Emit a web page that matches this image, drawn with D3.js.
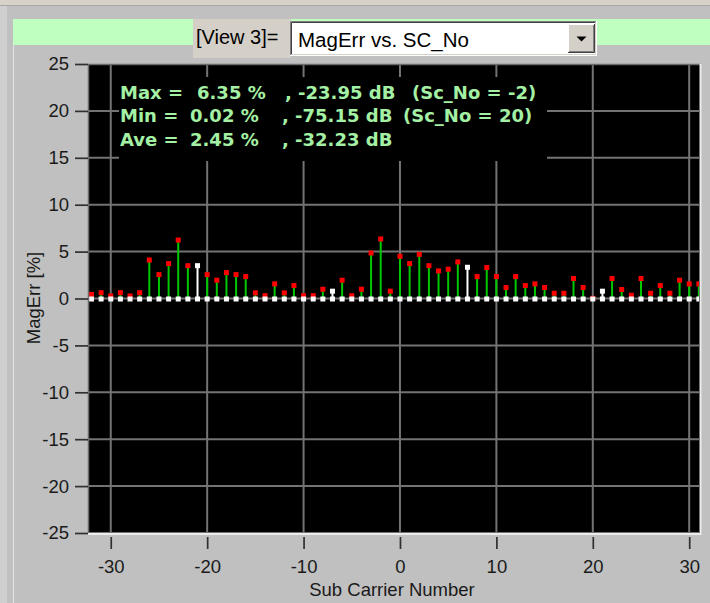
<!DOCTYPE html>
<html>
<head>
<meta charset="utf-8">
<script src="https://cdn.jsdelivr.net/npm/d3@7"></script>
<style>
  html, body { margin: 0; padding: 0; background: #c0c0c0; }
  svg { display: block; }
</style>
</head>
<body>
<svg id="chart" width="710" height="603"></svg>
<script>
// Sub carrier numbers shown on the x axis
const subCarriers = [
  -32, -31, -30, -29, -28, -27, -26, -25, -24, -23, -22, -21, -20, -19, -18, -17,
  -16, -15, -14, -13, -12, -11, -10, -9, -8, -7, -6, -5, -4, -3, -2, -1,
  0, 1, 2, 3, 4, 5, 6, 7, 8, 9, 10, 11, 12, 13, 14, 15,
  16, 17, 18, 19, 20, 21, 22, 23, 24, 25, 26, 27, 28, 29, 30, 31
];
// Magnitude error per sub carrier, in percent
const magErr = [
  0.44, 0.62, 0.27, 0.62, 0.27, 0.62, 4.10, 2.55, 3.72, 6.23, 3.50, 3.50, 2.55, 1.95, 2.76, 2.55,
  2.34, 0.60, 0.30, 1.56, 0.60, 1.38, 0.30, 0.30, 0.99, 0.78, 1.95, 0.30, 0.99, 4.85, 6.35, 0.78,
  4.50, 3.72, 4.71, 3.50, 2.94, 3.12, 3.90, 3.33, 2.34, 3.30, 2.34, 1.17, 2.34, 1.38, 1.56, 1.17,
  0.56, 0.56, 2.13, 1.17, 0.02, 0.78, 2.13, 0.96, 0.35, 2.13, 0.56, 1.38, 0.56, 1.95, 1.56, 1.56
];
// Pilot sub carriers, drawn in white
const pilots = [-21, -7, 7, 21];

const xTicks = [-30, -20, -10, 0, 10, 20, 30];
const yTicks = [-25, -20, -15, -10, -5, 0, 5, 10, 15, 20, 25];
const xDomain = [-32.36, 31.12];
const yDomain = [-25, 25];

const statLines = [
  ["Max =", "6.35 %", ", -23.95 dB", "(Sc_No = -2)"],
  ["Min =", "0.02 %", ", -75.15 dB", "(Sc_No = 20)"],
  ["Ave =", "2.45 %", ", -32.23 dB", ""]
];

const viewLabel = "[View 3]=";
const viewChoice = "MagErr vs. SC_No";
const xTitle = "Sub Carrier Number";
const yTitle = "MagErr [%]";

const data = subCarriers.map((sc, i) => ({ sc, v: magErr[i], pilot: pilots.includes(sc) }));

const svg = d3.select("#chart");
const W = 710, H = 603;
const plot = { left: 88, top: 64, right: 700, bottom: 533 };

const x = d3.scaleLinear().domain(xDomain).range([plot.left, plot.right]);
const y = d3.scaleLinear().domain(yDomain).range([plot.bottom, plot.top]);

// ---- window chrome ----
svg.append("rect").attr("width", W).attr("height", H).attr("fill", "#c0c0c0");
svg.append("rect").attr("x", 0).attr("y", 0).attr("width", W).attr("height", 5).attr("fill", "#d6d2ca");
svg.append("line").attr("x1", 0).attr("x2", W).attr("y1", 5.5).attr("y2", 5.5).attr("stroke", "#a8a8a8");
svg.append("rect").attr("x", 0).attr("y", 6).attr("width", 7).attr("height", H).attr("fill", "#cfcfcf");
svg.append("line").attr("x1", 13.5).attr("x2", 13.5).attr("y1", 45).attr("y2", H).attr("stroke", "#e4e4e4");
svg.append("rect").attr("x", 13).attr("y", 19).attr("width", W - 13).attr("height", 26).attr("fill", "#bfffbf");

// view selector label
svg.append("rect").attr("x", 193).attr("y", 19).attr("width", 98).attr("height", 39).attr("fill", "#d4d0c8");
svg.append("text").attr("x", 196).attr("y", 44)
  .attr("font-family", "Liberation Sans, Arial, sans-serif").attr("font-size", 20)
  .attr("fill", "#000").text(viewLabel);

// combo box (sunken)
const cb = { x: 290, y: 21, w: 307, h: 35 };
svg.append("rect").attr("x", cb.x).attr("y", cb.y).attr("width", cb.w).attr("height", cb.h).attr("fill", "#ffffff");
svg.append("path").attr("d", `M${cb.x + 0.5},${cb.y + cb.h}V${cb.y + 0.5}H${cb.x + cb.w}`).attr("stroke", "#808080").attr("fill", "none");
svg.append("path").attr("d", `M${cb.x + 1.5},${cb.y + cb.h - 1}V${cb.y + 1.5}H${cb.x + cb.w - 1}`).attr("stroke", "#404040").attr("fill", "none");
svg.append("path").attr("d", `M${cb.x},${cb.y + cb.h - 0.5}H${cb.x + cb.w - 0.5}V${cb.y}`).attr("stroke", "#ffffff").attr("fill", "none");
svg.append("path").attr("d", `M${cb.x + 1},${cb.y + cb.h - 1.5}H${cb.x + cb.w - 1.5}V${cb.y + 1}`).attr("stroke", "#d4d0c8").attr("fill", "none");
svg.append("text").attr("x", 298).attr("y", 47)
  .attr("font-family", "Liberation Sans, Arial, sans-serif").attr("font-size", 20.5)
  .attr("fill", "#000").text(viewChoice);
// drop-down button (raised)
const bt = { x: 568, y: 24, w: 27, h: 29 };
svg.append("rect").attr("x", bt.x).attr("y", bt.y).attr("width", bt.w).attr("height", bt.h).attr("fill", "#d4d0c8");
svg.append("path").attr("d", `M${bt.x + 0.5},${bt.y + bt.h}V${bt.y + 0.5}H${bt.x + bt.w}`).attr("stroke", "#ffffff").attr("fill", "none");
svg.append("path").attr("d", `M${bt.x},${bt.y + bt.h - 0.5}H${bt.x + bt.w - 0.5}V${bt.y}`).attr("stroke", "#404040").attr("fill", "none");
svg.append("path").attr("d", `M${bt.x + 1},${bt.y + bt.h - 1.5}H${bt.x + bt.w - 1.5}V${bt.y + 1}`).attr("stroke", "#808080").attr("fill", "none");
const ax = bt.x + bt.w / 2, ay = bt.y + bt.h / 2;
svg.append("path").attr("d", `M${ax - 5},${ay - 2}H${ax + 5}L${ax},${ay + 3}Z`).attr("fill", "#000");

// ---- plot area ----
svg.append("rect").attr("x", plot.left).attr("y", plot.top)
  .attr("width", plot.right - plot.left).attr("height", plot.bottom - plot.top).attr("fill", "#000");

const clip = svg.append("clipPath").attr("id", "plotClip").append("rect")
  .attr("x", plot.left).attr("y", plot.top)
  .attr("width", plot.right - plot.left - 1).attr("height", plot.bottom - plot.top);

const grid = svg.append("g").attr("clip-path", "url(#plotClip)");
grid.selectAll("line.gx").data(xTicks).join("line").attr("class", "gx")
  .attr("x1", d => x(d)).attr("x2", d => x(d)).attr("y1", plot.top).attr("y2", plot.bottom)
  .attr("stroke", "#737373").attr("stroke-width", 2);
grid.selectAll("line.gy").data(yTicks).join("line").attr("class", "gy")
  .attr("x1", plot.left).attr("x2", plot.right).attr("y1", d => y(d)).attr("y2", d => y(d))
  .attr("stroke", "#737373").attr("stroke-width", 2);

// statistics read-out on its own black panel
grid.append("rect").attr("x", 119).attr("y", 77).attr("width", 428).attr("height", 84).attr("fill", "#000");
const statX = [120, null, null, null];
const statText = grid.append("g")
  .attr("font-family", "DejaVu Sans, Verdana, sans-serif").attr("font-weight", "bold")
  .attr("font-size", 18).attr("fill", "#a4f0a4");
const segX = [[120, 197, 285, 412], [120, 190, 282, 403], [120, 190, 282, 0]];
statLines.forEach((line, i) => {
  const t = statText.append("text").attr("y", 98.5 + i * 23.5);
  line.forEach((s, j) => {
    if (s) t.append("tspan").attr("x", segX[i][j]).text(s);
  });
});

// stems, top markers and zero markers
const marks = svg.append("g").attr("clip-path", "url(#plotClip)");
marks.selectAll("line.stem").data(data).join("line").attr("class", "stem")
  .attr("x1", d => x(d.sc)).attr("x2", d => x(d.sc))
  .attr("y1", y(0)).attr("y2", d => y(d.v))
  .attr("stroke", d => d.pilot ? "#ffffff" : "#00c800").attr("stroke-width", 2);
const ms = 5;
marks.selectAll("rect.top").data(data).join("rect").attr("class", "top")
  .attr("x", d => x(d.sc) - ms / 2).attr("y", d => y(d.v) - ms / 2)
  .attr("width", ms).attr("height", ms)
  .attr("fill", d => d.pilot ? "#ffffff" : "#ff0000");
marks.selectAll("rect.base").data(data).join("rect").attr("class", "base")
  .attr("x", d => x(d.sc) - ms / 2).attr("y", y(0) - ms / 2 + 0.5)
  .attr("width", ms).attr("height", ms).attr("fill", "#ffffff");

// sunken frame around the plot
svg.append("path").attr("d", `M${plot.left + 0.5},${plot.bottom}V${plot.top + 0.5}H${plot.right}`)
  .attr("stroke", "#6a6a6a").attr("stroke-width", 1.5).attr("fill", "none");
svg.append("path").attr("d", `M${plot.left},${plot.bottom + 1}H${plot.right + 0.5}V${plot.top}`)
  .attr("stroke", "#ececec").attr("stroke-width", 2).attr("fill", "none");

// ---- axes ----
const axisFont = "Liberation Sans, Arial, sans-serif";
const yAxis = svg.append("g").attr("transform", `translate(${plot.left},0)`)
  .call(d3.axisLeft(y).tickValues(yTicks).tickSize(13).tickPadding(6).tickFormat(d3.format("d")));
const xAxis = svg.append("g").attr("transform", `translate(0,${plot.bottom + 4})`)
  .call(d3.axisBottom(x).tickValues(xTicks).tickSize(12).tickPadding(11).tickFormat(d3.format("d")));
[yAxis, xAxis].forEach(g => {
  g.select(".domain").remove();
  g.selectAll(".tick line").attr("stroke", "#303030").attr("stroke-width", 1.7);
  g.selectAll(".tick text").attr("fill", "#1a1a1a").attr("font-family", axisFont).attr("font-size", 18.5);
});
// replace the unicode minus d3 uses with a plain hyphen
svg.selectAll(".tick text").text(function () { return this.textContent.replace("\u2212", "-"); });

svg.append("text").attr("x", 392).attr("y", 596).attr("text-anchor", "middle")
  .attr("font-family", axisFont).attr("font-size", 18.5).attr("fill", "#1a1a1a").text(xTitle);
svg.append("text").attr("transform", "translate(40,298) rotate(-90)").attr("text-anchor", "middle")
  .attr("font-family", axisFont).attr("font-size", 18.5).attr("fill", "#1a1a1a").text(yTitle);
</script>
</body>
</html>
